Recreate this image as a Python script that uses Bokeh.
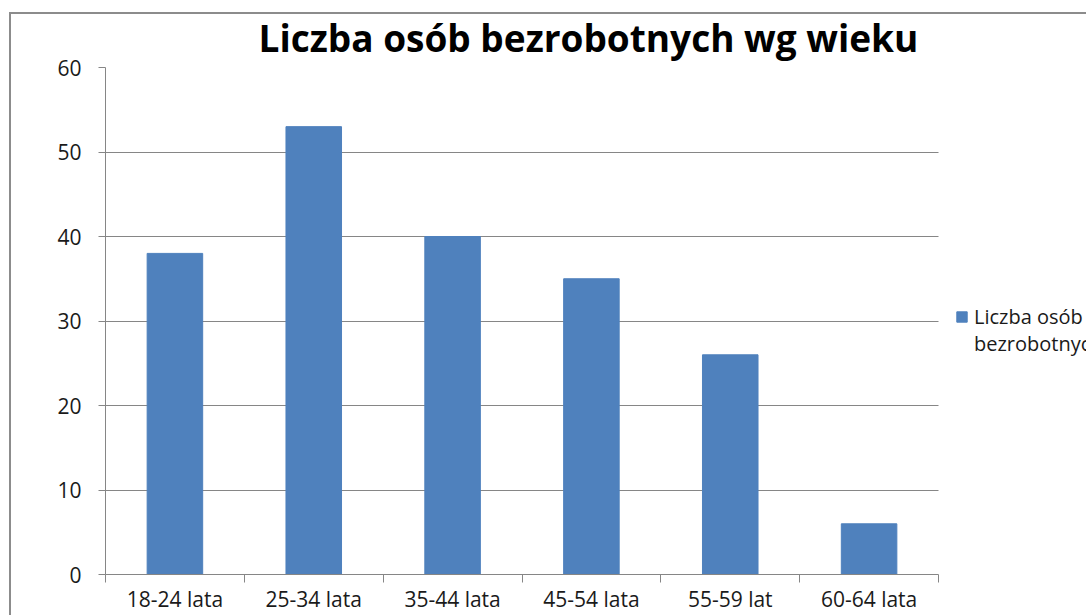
from bokeh.plotting import figure
from bokeh.models import Range1d, FixedTicker, Legend, LegendItem, ColumnDataSource
from bokeh.embed import file_html
from bokeh.resources import INLINE

categories = ["18-24 lata", "25-34 lata", "35-44 lata", "45-54 lata", "55-59 lat", "60-64 lata"]
values = [38, 53, 40, 35, 26, 6]
series_name_lines = ["Liczba osób", "bezrobotnych"]
title_text = "Liczba osób bezrobotnych wg wieku"
y_ticks = [0, 10, 20, 30, 40, 50, 60]

n = len(categories)
positions = [i + 0.5 for i in range(n)]
boundaries = list(range(n + 1))
source = ColumnDataSource(dict(x=positions, top=values, cat=categories))

GRAY = "#868686"
FONT = "Open Sans"

# the plot area spans to the right edge so the legend is not clipped;
# the category axis occupies the left 833 px of a 981 px wide frame
x_end = n * 981 / 833

p = figure(width=1086, height=615, output_backend="svg", toolbar_location=None,
           x_range=Range1d(0, x_end), y_range=Range1d(0, 60),
           min_border_left=105, min_border_right=0, min_border_top=67,
           min_border_bottom=40, title=title_text)

p.title.align = "left"
p.title.offset = 153
p.title.text_font = FONT
p.title.text_font_style = "bold"
p.title.text_font_size = "37px"
p.title.text_color = "#000000"

r = p.vbar(x="x", top="top", width=0.4, source=source, color="#4F81BD")
# invisible companion renderer: carries the legend's second text line
r_blank = p.vbar(x="x", top="top", width=0.4, source=source,
                 fill_alpha=0, line_alpha=0)

legend = Legend(items=[LegendItem(label=series_name_lines[0], renderers=[r]),
                       LegendItem(label=series_name_lines[1], renderers=[r_blank])],
                location=(850, 217), padding=0, margin=0, spacing=0,
                border_line_color=None, background_fill_alpha=0,
                label_text_font=FONT, label_text_font_size="20px",
                label_text_line_height=1.0,
                label_text_color="#1a1a1a", glyph_width=13, glyph_height=13,
                label_standoff=6, label_height=24)
p.add_layout(legend)

p.outline_line_color = None
p.background_fill_color = None
p.border_fill_color = None
p.xgrid.visible = False
p.ygrid.ticker = FixedTicker(ticks=y_ticks)
p.ygrid.grid_line_color = GRAY
p.ygrid.grid_line_width = 1
p.ygrid.cross_bounds = (0, n)

p.yaxis.ticker = FixedTicker(ticks=y_ticks)
p.yaxis.axis_line_color = GRAY
p.yaxis.major_tick_line_color = GRAY
p.yaxis.major_tick_out = 7
p.yaxis.major_tick_in = 0
p.yaxis.minor_tick_line_color = None
p.yaxis.major_label_standoff = 17
p.yaxis.major_label_text_font = FONT
p.yaxis.major_label_text_font_size = "21px"
p.yaxis.major_label_text_color = "#1a1a1a"

p.xaxis.bounds = (0, n)
p.xaxis.ticker = FixedTicker(ticks=positions, minor_ticks=boundaries)
p.xaxis.major_label_overrides = {pos: cat for pos, cat in zip(positions, categories)}
p.xaxis.axis_line_color = GRAY
p.xaxis.major_tick_line_color = None
p.xaxis.major_tick_out = 8
p.xaxis.major_tick_in = 0
p.xaxis.minor_tick_line_color = GRAY
p.xaxis.minor_tick_out = 8
p.xaxis.minor_tick_in = 0
p.xaxis.major_label_standoff = 2
p.xaxis.major_label_text_font = FONT
p.xaxis.major_label_text_font_size = "21px"
p.xaxis.major_label_text_color = "#1a1a1a"

p.styles = {
    "background": ("linear-gradient(#8c8c8c, #8c8c8c) 9px 12px / 2px 100% no-repeat, "
                   "linear-gradient(#8c8c8c, #8c8c8c) 9px 12px / 100% 2px no-repeat, #ffffff"),
}

open("out.html", "w").write(file_html(p, INLINE))
